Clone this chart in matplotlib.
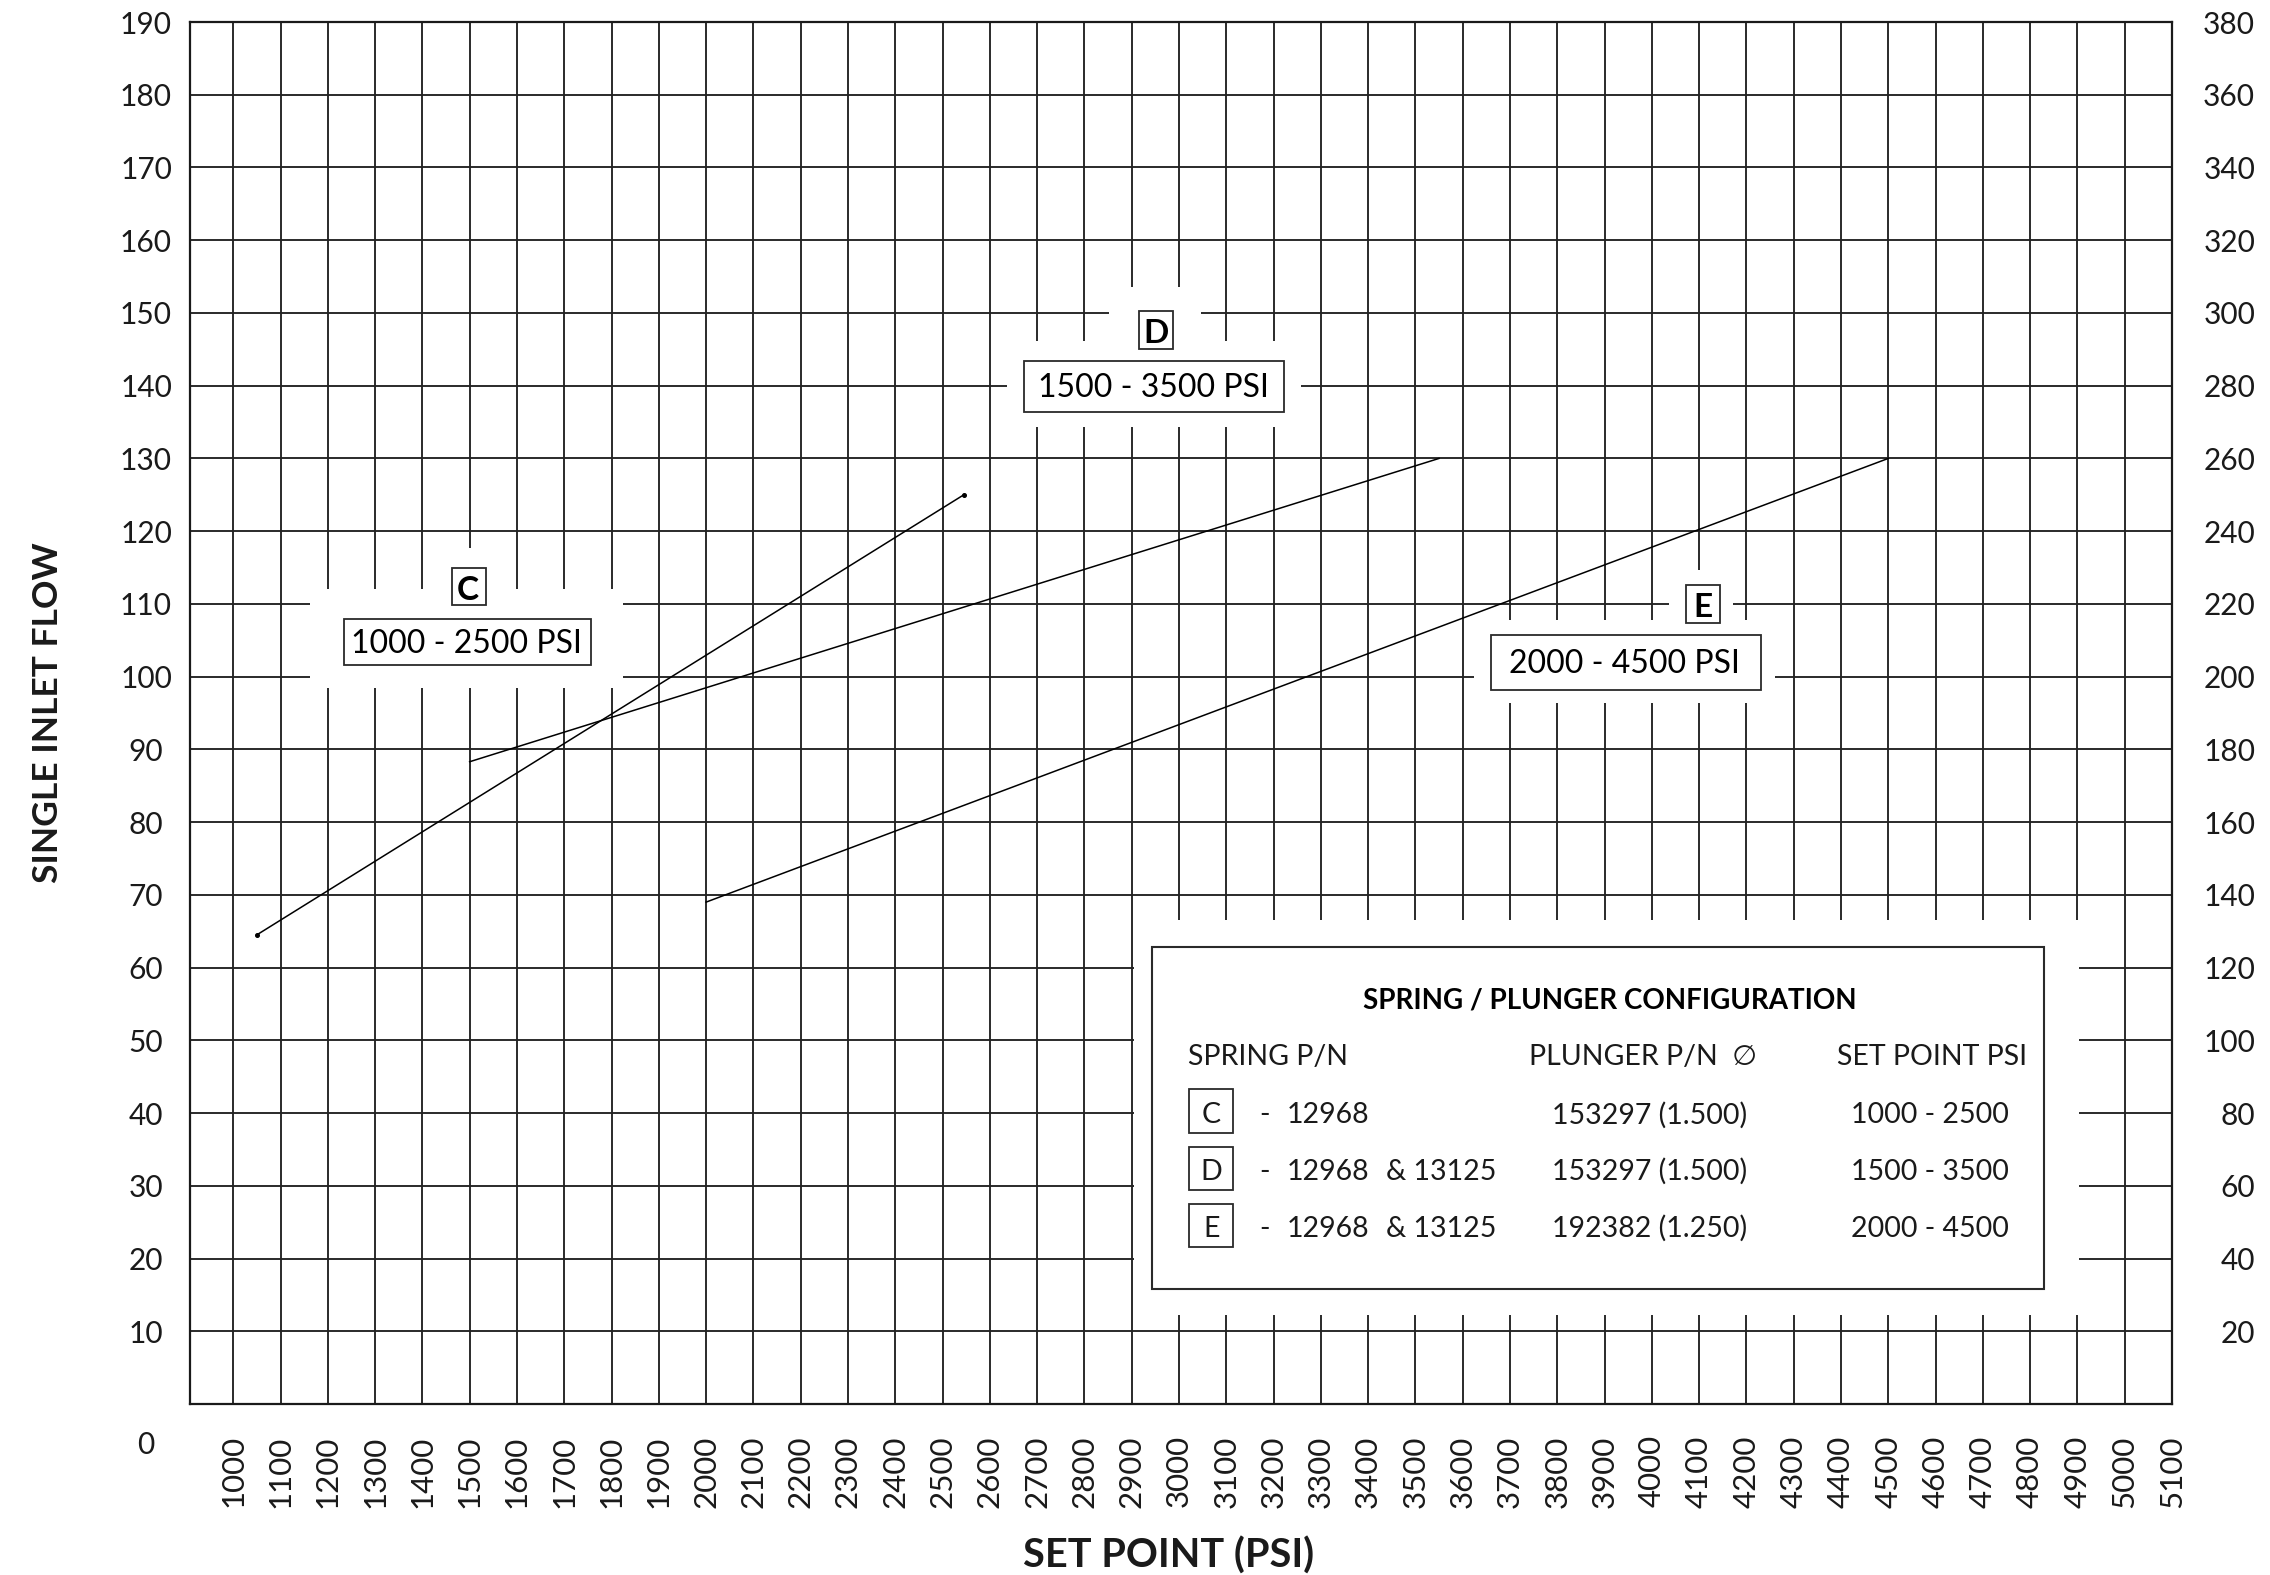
import matplotlib
matplotlib.use("Agg")
import matplotlib.pyplot as plt
from matplotlib.patches import Rectangle

# ---------------- data ----------------
set_point_c = [1050, 2545]
flow_c = [64.5, 125.0]
set_point_d = [1500, 3550]
flow_d = [88.3, 130.0]
set_point_e = [2000, 4500]
flow_e = [69.0, 130.0]

x_ticks = list(range(1000, 5200, 100))
y_ticks_left = list(range(10, 200, 10))
y_ticks_right = list(range(20, 400, 20))

curve_letters = ["C", "D", "E"]
curve_ranges = ["1000 - 2500 PSI", "1500 - 3500 PSI", "2000 - 4500 PSI"]

table_title = "SPRING / PLUNGER CONFIGURATION"
table_headers = ["SPRING P/N", "PLUNGER P/N  \u2205", "SET POINT PSI"]
spring_codes = ["C", "D", "E"]
spring_pn = ["12968", "12968", "12968"]
spring_extra = ["", "& 13125", "& 13125"]
plunger_pn = ["153297 (1.500)", "153297 (1.500)", "192382 (1.250)"]
set_point_ranges = ["1000 - 2500", "1500 - 3500", "2000 - 4500"]

# ---------------- layout ----------------
FIG_W, FIG_H, DPI = 2270, 1575, 100
AX_L, AX_R, AX_T, AX_B = 190, 2172, 22, 1404
XMIN, XMAX = 908.6, 5100
YMIN, YMAX = 0, 190

plt.rcParams["font.family"] = ["Lato", "DejaVu Sans"]
INK = "#1a1a1a"


def pxd(px, py):
    return (XMIN + (px - AX_L) / (AX_R - AX_L) * (XMAX - XMIN),
            YMIN + (AX_B - py) / (AX_B - AX_T) * (YMAX - YMIN))


def rect_px(ax, x0, y0, x1, y1, **kw):
    X0, Y0 = pxd(x0, y1)
    X1, Y1 = pxd(x1, y0)
    r = Rectangle((X0, Y0), X1 - X0, Y1 - Y0, **kw)
    ax.add_patch(r)
    return r


def text_px(ax, px, py, s, **kw):
    X, Y = pxd(px, py)
    return ax.text(X, Y, s, clip_on=False, **kw)


fig = plt.figure(figsize=(FIG_W / DPI, FIG_H / DPI), dpi=DPI)
ax = fig.add_axes([AX_L / FIG_W, 1 - AX_B / FIG_H,
                   (AX_R - AX_L) / FIG_W, (AX_B - AX_T) / FIG_H])
ax.set_xlim(XMIN, XMAX)
ax.set_ylim(YMIN, YMAX)

ax.set_xticks(x_ticks)
ax.set_xticklabels([str(v) for v in x_ticks], rotation=90)
ax.set_yticks(y_ticks_left)
ax.set_yticklabels([str(v) for v in y_ticks_left])
ax.tick_params(axis="both", length=0, labelsize=21.5, colors=INK)
ax.tick_params(axis="x", pad=22.5, labelsize=22.5)
ax.tick_params(axis="y", pad=31.7)
for lab in ax.get_yticklabels():
    lab.set_horizontalalignment("center")

ax.grid(True, color="#222222", lw=1.35)
ax.set_axisbelow(True)
for sp in ax.spines.values():
    sp.set_linewidth(1.6)
    sp.set_color(INK)

# zero label sits below the frame
text_px(ax, 146, 1443, "0", ha="center", va="center_baseline", fontsize=21.5, color=INK)

# right axis (double scale)
ax2 = ax.twinx()
ax2.set_ylim(0, 380)
ax2.set_yticks(y_ticks_right)
ax2.set_yticklabels([str(v) for v in y_ticks_right])
ax2.tick_params(axis="y", length=0, labelsize=21.5, pad=59.8, colors=INK)
for lab in ax2.get_yticklabels():
    lab.set_horizontalalignment("right")
for sp in ax2.spines.values():
    sp.set_visible(False)

# axis titles
ax.set_xlabel("SET POINT (PSI)", fontsize=28.5, fontweight="bold", color=INK)
ax.xaxis.label.set_va("center")
ax.xaxis.set_label_coords((1168.5 - AX_L) / (AX_R - AX_L), (AX_B - 1556) / (AX_B - AX_T))
ax.set_ylabel("SINGLE INLET FLOW", fontsize=25.5, fontweight="bold", color=INK)
ax.yaxis.label.set_va("center")
ax.yaxis.set_label_coords((48 - AX_L) / (AX_R - AX_L), 0.5)

# ---------------- grid masks (white areas behind labels) ----------------
mask_kw = dict(fc="white", ec="none", zorder=1.5)
masks = [
    (310, 589.3, 623.3, 688.3), (430, 548.3, 510, 590),        # C
    (1007.3, 340.7, 1301, 427), (1109.3, 286.7, 1201, 341),    # D
    (1474.3, 620, 1775, 703.3), (1669, 570, 1733.3, 621),      # E
    (1133.5, 920, 2078.8, 1315),                               # table
]
for m in masks:
    rect_px(ax, *m, **mask_kw)

# ---------------- curves ----------------
ax.plot(set_point_c, flow_c, color="black", lw=1.1, marker="o", ms=2.6, zorder=3)
ax.plot(set_point_d, flow_d, color="black", lw=1.1, zorder=3)
ax.plot(set_point_e, flow_e, color="black", lw=1.1, zorder=3)

# ---------------- curve labels ----------------
box_kw = dict(fc="white", ec="#2a2a2a", lw=1.3, zorder=4)
letter_boxes = [(451.7, 567.7, 485.7, 605), (1139.3, 311, 1173.3, 349.3), (1685.7, 585, 1719.7, 623.3)]
letter_text = [(468, 600), (1156.5, 343.3), (1703, 616.7)]
range_boxes = [(344.3, 619.3, 591.3, 665.3), (1024.3, 361, 1284, 412), (1491.3, 634.7, 1760.7, 690)]
range_text = [(466.7, 653.3), (1153.3, 397.3), (1624.2, 673.3)]
for i in range(3):
    rect_px(ax, *letter_boxes[i], **box_kw)
    text_px(ax, *letter_text[i], curve_letters[i], ha="center", va="baseline",
            fontsize=24, fontweight="bold", color="black", zorder=5)
    rect_px(ax, *range_boxes[i], **box_kw)
    text_px(ax, *range_text[i], curve_ranges[i], ha="center", va="baseline",
            fontsize=23, color="black", zorder=5)

# ---------------- configuration table ----------------
rect_px(ax, 1151.5, 946.7, 2043.6, 1289.3, fc="white", ec="#2a2a2a", lw=1.5, zorder=4)
text_px(ax, 1610, 1008.3, table_title, ha="center", va="baseline",
        fontsize=20, fontweight="bold", color="black", zorder=5)
TFS = 20.5
text_px(ax, 1187.6, 1065, table_headers[0], ha="left", va="baseline", fontsize=TFS, color=INK, zorder=5)
text_px(ax, 1528.7, 1065, table_headers[1], ha="left", va="baseline", fontsize=TFS, color=INK, zorder=5)
text_px(ax, 1932, 1065, table_headers[2], ha="center", va="baseline", fontsize=TFS, color=INK, zorder=5)

row_baselines = [1123.3, 1180, 1236.7]
row_box_tops = [1089.3, 1146.7, 1204]
for i in range(3):
    yb = row_baselines[i]
    rect_px(ax, 1189.4, row_box_tops[i], 1233, row_box_tops[i] + 43.4,
            fc="white", ec="#2a2a2a", lw=1.3, zorder=4)
    text_px(ax, 1211.2, yb, spring_codes[i], ha="center", va="baseline", fontsize=TFS, color=INK, zorder=5)
    text_px(ax, 1264.5, yb, "-", ha="center", va="baseline", fontsize=TFS, color=INK, zorder=5)
    text_px(ax, 1286.3, yb, spring_pn[i], ha="left", va="baseline", fontsize=TFS, color=INK, zorder=5)
    if spring_extra[i]:
        text_px(ax, 1385.7, yb, spring_extra[i], ha="left", va="baseline", fontsize=TFS, color=INK, zorder=5)
    text_px(ax, 1649.7, yb, plunger_pn[i], ha="center", va="baseline", fontsize=TFS, color=INK, zorder=5)
    text_px(ax, 1929.6, yb, set_point_ranges[i], ha="center", va="baseline", fontsize=TFS, color=INK, zorder=5)

fig.savefig("out.png", dpi=DPI, facecolor="white")
